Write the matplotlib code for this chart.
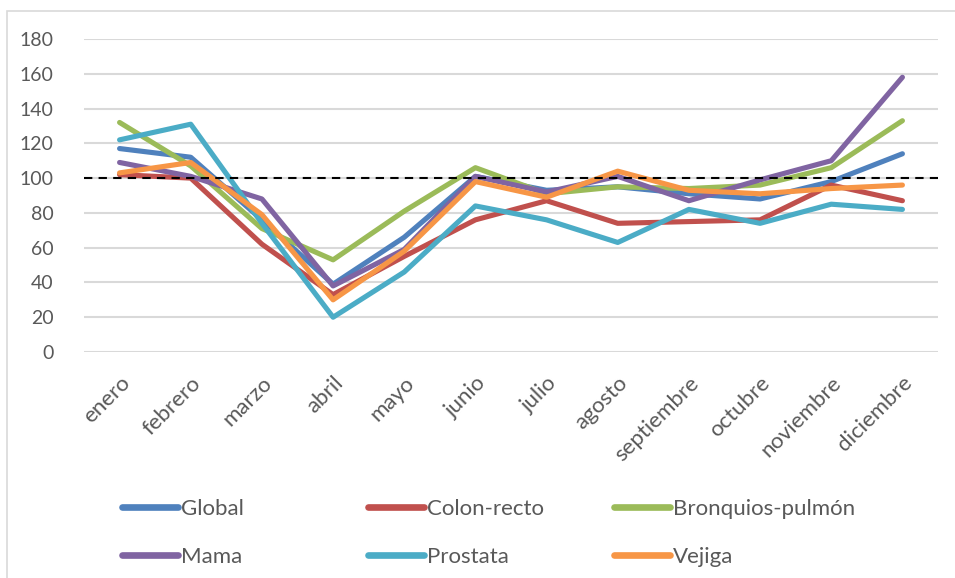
import matplotlib
matplotlib.use('Agg')
import matplotlib.pyplot as plt
from matplotlib.patches import Rectangle

plt.rcParams['font.family'] = ['Lato', 'DejaVu Sans']

meses = ['enero', 'febrero', 'marzo', 'abril', 'mayo', 'junio', 'julio',
         'agosto', 'septiembre', 'octubre', 'noviembre', 'diciembre']

global_ = [117, 112, 76, 39, 66, 101, 93, 95, 91, 88, 98, 114]
colon = [102, 100, 62, 33, 55, 76, 87, 74, 75, 76, 96, 87]
bronquios = [132, 107, 71, 53, 81, 106, 91, 95, 94, 96, 106, 133]
mama = [109, 101, 88, 38, 59, 101, 92, 101, 87, 99, 110, 158]
prostata = [122, 131, 74, 20, 46, 84, 76, 63, 82, 74, 85, 82]
vejiga = [103, 109, 79, 30, 58, 98, 89, 104, 93, 91, 94, 96]

series = [
    ('Global', global_, '#4F81BD'),
    ('Colon-recto', colon, '#C0504D'),
    ('Bronquios-pulmón', bronquios, '#9BBB59'),
    ('Mama', mama, '#8064A2'),
    ('Prostata', prostata, '#4BACC6'),
    ('Vejiga', vejiga, '#F79646'),
]

fig = plt.figure(figsize=(9.55, 5.78), dpi=100)
ax = fig.add_axes([84 / 955, 1 - 352 / 578, 854 / 955, 313 / 578])

# marco gris de la figura
fig.patches.append(Rectangle((7 / 955, -0.1), 1.2, 1.1 - 11 / 578,
                             transform=fig.transFigure, fill=False,
                             edgecolor='#D9D9D9', linewidth=1.2))

x = list(range(len(meses)))
handles = []
for nombre, vals, col in series:
    h, = ax.plot(x, vals, color=col, linewidth=3.7, label=nombre,
                 solid_capstyle='round', solid_joinstyle='round', zorder=3)
    handles.append(h)

ax.axhline(100, color='black', linewidth=1.5, linestyle=(0, (4, 3)), zorder=4)

ax.set_xlim(-0.5, 11.5)
ax.set_ylim(0, 180)
ax.set_yticks(range(0, 181, 20))
ax.yaxis.grid(True, color='#D9D9D9', linewidth=1.5)
ax.set_axisbelow(True)
for s in ax.spines.values():
    s.set_visible(False)
ax.tick_params(axis='both', length=0, labelsize=14, labelcolor='#595959')
ax.tick_params(axis='y', pad=22)
ax.set_xticks(x)
ax.set_xticklabels(meses, rotation=45, ha='right', va='top',
                   rotation_mode='anchor', fontsize=16)
ax.tick_params(axis='x', pad=15)

# leyenda en tres columnas
cols_x = [122, 368, 614]
for i, cx in enumerate(cols_x):
    hs = [handles[i], handles[i + 3]]
    leg = fig.legend(hs, [h.get_label() for h in hs], loc='upper left',
                     bbox_to_anchor=(cx / 955, 1 - 499 / 578), frameon=False,
                     fontsize=16, handlelength=2.5, handletextpad=0.15,
                     labelspacing=1.25, borderaxespad=0, borderpad=0)
    for t in leg.get_texts():
        t.set_color('#595959')
    for l in leg.get_lines():
        l.set_linewidth(4.8)

fig.savefig('out.png', dpi=100)
